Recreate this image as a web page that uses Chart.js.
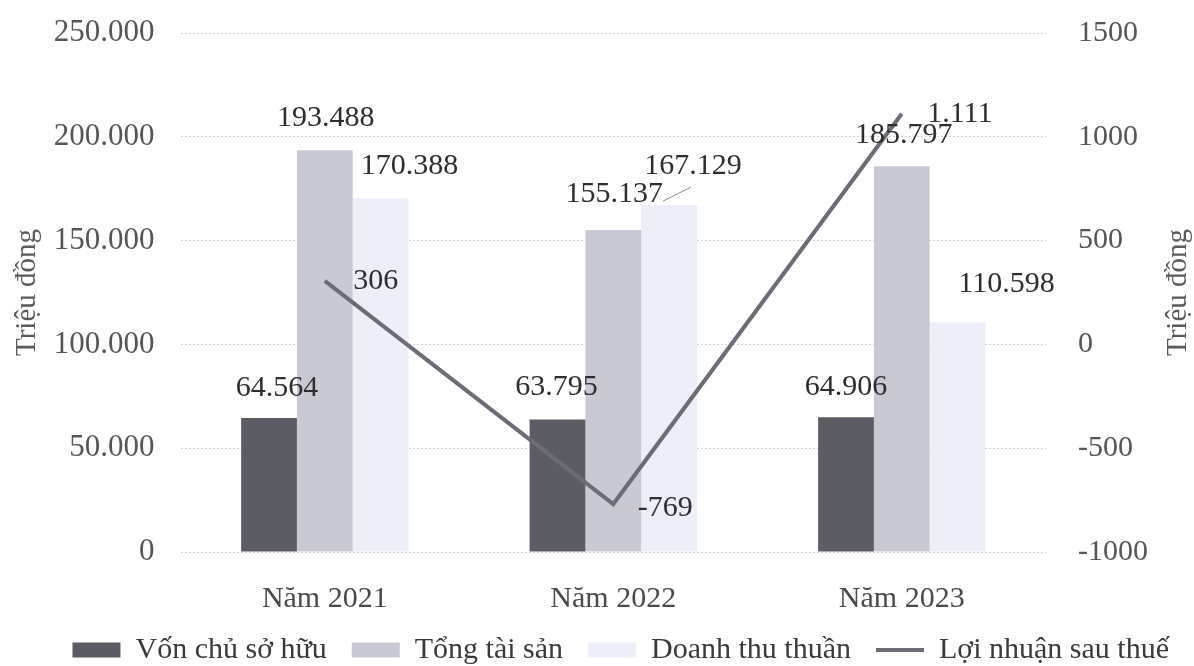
<!DOCTYPE html>
<html>
<head>
<meta charset="utf-8">
<title>Vốn, tài sản, doanh thu và lợi nhuận 2021-2023</title>
<script src="https://cdn.jsdelivr.net/npm/chart.js@4/dist/chart.umd.min.js"></script>
<style>
  html, body { margin: 0; padding: 0; background: #ffffff; }
  #wrap { width: 1194px; height: 666px; }
</style>
</head>
<body>
<div id="wrap"><canvas id="chart" width="1194" height="666"></canvas></div>
<script>
// --- data ---
const categories = ['Năm 2021', 'Năm 2022', 'Năm 2023'];
const vonChuSoHuu = [64564, 63795, 64906];
const tongTaiSan = [193488, 155137, 185797];
const doanhThuThuan = [170388, 167129, 110598];
const loiNhuanSauThue = [306, -769, 1111];

const leftTicks = [0, 50000, 100000, 150000, 200000, 250000];
const rightTicks = [-1000, -500, 0, 500, 1000, 1500];
const axisTitle = 'Triệu đồng';

// label nudges (px) per dataset / point, relative to the top of the mark
const labelNudge = [
  [[8, -30], [-1, -32], [0, -30]],
  [[1, -32], [1, -36], [2, -31]],
  [[29, -32], [24, -39], [49, -38]],
  [[51, 0], [52, 4], [58, 0]]
];

const FONT = '"Liberation Serif", "Times New Roman", serif';

// 64564 -> "64.564"
function fmtDot(v) {
  return String(v).replace(/\B(?=(\d{3})+(?!\d))/g, '.');
}

/**
 * Draws the value labels next to each bar / line point, plus the right axis title
 * (Excel style: reads bottom to top, like the left one).
 */
const valueLabels = {
  id: 'valueLabels',
  afterDatasetsDraw(chart) {
    const ctx = chart.ctx;
    ctx.save();
    ctx.font = '30px ' + FONT;
    ctx.fillStyle = '#2e2e2e';
    ctx.textAlign = 'center';
    ctx.textBaseline = 'middle';
    chart.data.datasets.forEach((ds, i) => {
      const meta = chart.getDatasetMeta(i);
      meta.data.forEach((el, j) => {
        const n = labelNudge[i][j];
        ctx.fillText(fmtDot(ds.data[j]), el.x + n[0], el.y + n[1]);
      });
    });

    // small leader line for the 2022 revenue label
    const el = chart.getDatasetMeta(2).data[1];
    ctx.strokeStyle = '#8a8a8a';
    ctx.lineWidth = 1;
    ctx.beginPath();
    ctx.moveTo(el.x - 6, el.y - 4);
    ctx.lineTo(el.x + 22, el.y - 18);
    ctx.stroke();

    // right axis title
    const yr = chart.scales.yRight;
    ctx.fillStyle = '#5a5a5a';
    ctx.font = '29px ' + FONT;
    ctx.translate(chart.width - 16, (yr.top + yr.bottom) / 2);
    ctx.rotate(-Math.PI / 2);
    ctx.fillText(axisTitle, 0, 0);
    ctx.restore();
  }
};

new Chart(document.getElementById('chart'), {
  data: {
    labels: categories,
    datasets: [
      {
        type: 'bar',
        label: 'Vốn chủ sở hữu',
        data: vonChuSoHuu,
        backgroundColor: '#5c5c64',
        yAxisID: 'y',
        pointStyle: 'rect',
        order: 2
      },
      {
        type: 'bar',
        label: 'Tổng tài sản',
        data: tongTaiSan,
        backgroundColor: '#c9c9d4',
        yAxisID: 'y',
        pointStyle: 'rect',
        order: 2
      },
      {
        type: 'bar',
        label: 'Doanh thu thuần',
        data: doanhThuThuan,
        backgroundColor: '#eceef8',
        yAxisID: 'y',
        pointStyle: 'rect',
        order: 2
      },
      {
        type: 'line',
        label: 'Lợi nhuận sau thuế',
        data: loiNhuanSauThue,
        borderColor: '#6c6c76',
        backgroundColor: '#6c6c76',
        borderWidth: 4,
        pointRadius: 0,
        pointStyle: 'line',
        tension: 0,
        yAxisID: 'yRight',
        order: 1
      }
    ]
  },
  options: {
    responsive: false,
    animation: false,
    layout: { padding: { left: 10, right: 0, top: 33, bottom: -9 } },
    datasets: {
      bar: { categoryPercentage: 0.58, barPercentage: 1.0 }
    },
    plugins: {
      tooltip: { enabled: false },
      legend: {
        position: 'bottom',
        align: 'end',
        labels: {
          usePointStyle: true,
          pointStyleWidth: 48,
          boxHeight: 15,
          padding: 25,
          color: '#3a3a3a',
          font: { family: FONT, size: 30 },
          sort: (a, b) => a.datasetIndex - b.datasetIndex
        }
      }
    },
    scales: {
      x: {
        // tighten the gap between category labels and the legend
        afterFit(axis) { axis.height -= 28; },
        grid: { display: false },
        border: { display: false },
        ticks: { color: '#4a4a4a', padding: 21, font: { family: FONT, size: 30 } }
      },
      y: {
        position: 'left',
        min: 0,
        max: 250000,
        afterBuildTicks(axis) { axis.ticks = leftTicks.map(v => ({ value: v })); },
        afterFit(axis) {
          axis.width -= 23;
          axis.paddingTop = 16;
        },
        grid: { color: '#d2d2d2', lineWidth: 1, drawTicks: false },
        border: { display: false, dash: [2, 2] },
        title: {
          display: true,
          text: axisTitle,
          color: '#5a5a5a',
          padding: { top: 0, bottom: 6 },
          font: { family: FONT, size: 29 }
        },
        ticks: {
          color: '#555555',
          padding: 26,
          font: { family: FONT, size: 31 },
          callback: v => fmtDot(v)
        }
      },
      yRight: {
        position: 'right',
        min: -1000,
        max: 1500,
        afterBuildTicks(axis) { axis.ticks = rightTicks.map(v => ({ value: v })); },
        // leave room for the hand-drawn right title
        afterFit(axis) {
          axis.width += 14;
          axis.paddingTop = 16;
        },
        grid: { drawOnChartArea: false, drawTicks: false },
        border: { display: false },
        ticks: {
          color: '#555555',
          padding: 32,
          font: { family: FONT, size: 30 },
          callback: v => String(v)
        }
      }
    }
  },
  plugins: [valueLabels]
});
</script>
</body>
</html>
